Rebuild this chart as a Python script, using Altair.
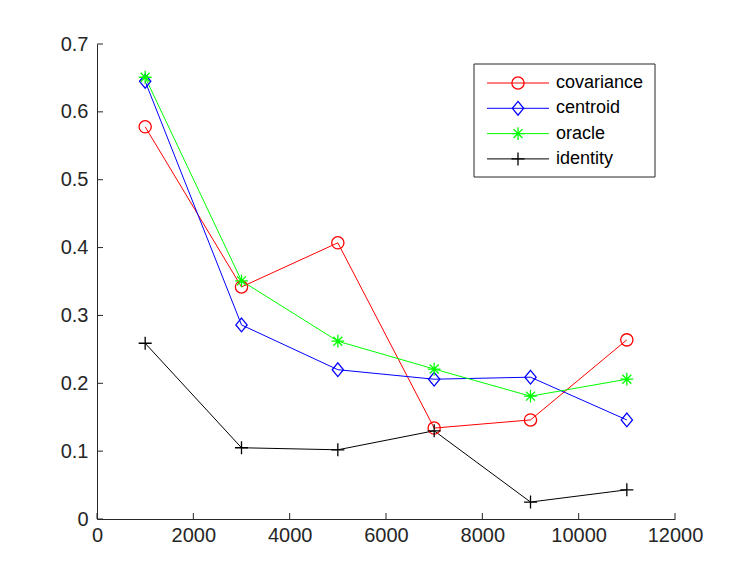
import altair as alt
import pandas as pd

# ---- data ----
xs = [1000, 3000, 5000, 7000, 9000, 11000]
covariance = [0.578, 0.342, 0.407, 0.134, 0.146, 0.264]
centroid = [0.645, 0.286, 0.220, 0.206, 0.209, 0.146]
oracle = [0.651, 0.351, 0.262, 0.221, 0.181, 0.206]
identity = [0.259, 0.105, 0.102, 0.130, 0.025, 0.043]

series_names = ["covariance", "centroid", "oracle", "identity"]
series_colors = ["#ff0000", "#0000ff", "#00ff00", "#000000"]
series_shapes = [
    "circle",
    "M0,-1.1L0.9,0L0,1.1L-0.9,0Z",
    "M-1,0L1,0M0,-1L0,1M-0.7,-0.7L0.7,0.7M-0.7,0.7L0.7,-0.7",
    "M-1,0L1,0M0,-1L0,1",
]
series_sizes = [150, 170, 180, 200]

x_ticks = [0, 2000, 4000, 6000, 8000, 10000, 12000]
y_ticks = [0, 0.1, 0.2, 0.3, 0.4, 0.5, 0.6, 0.7]

values = {"covariance": covariance, "centroid": centroid, "oracle": oracle, "identity": identity}
rows = []
for name in series_names:
    for xv, yv in zip(xs, values[name]):
        rows.append({"series": name, "x": xv, "y": yv})
df = pd.DataFrame(rows)

FONT = "Liberation Sans"
AX = "#262626"
W, H = 578, 475

color_scale = alt.Scale(domain=series_names, range=series_colors)
shape_scale = alt.Scale(domain=series_names, range=series_shapes)
size_scale = alt.Scale(domain=series_names, range=series_sizes)

xenc = alt.X("x:Q", scale=alt.Scale(domain=[0, 12000], nice=False),
             axis=alt.Axis(values=x_ticks, title=None, grid=False, ticks=False,
                           labelFont=FONT, labelFontSize=20, labelColor=AX,
                           labelPadding=6, domainColor=AX, domainWidth=1,
                           labelFlush=False, labelOverlap=False, format="d"))
yenc = alt.Y("y:Q", scale=alt.Scale(domain=[0, 0.7], nice=False),
             axis=alt.Axis(values=y_ticks, title=None, grid=False, ticks=False,
                           labelFont=FONT, labelFontSize=20, labelColor=AX,
                           labelPadding=9, domainColor=AX, domainWidth=1,
                           labelFlush=False, labelOverlap=False, format="~g"))

base = alt.Chart(df)
lines = base.mark_line(strokeWidth=1).encode(
    x=xenc, y=yenc,
    color=alt.Color("series:N", scale=color_scale, legend=None),
    detail="series:N",
)
points = base.mark_point(filled=False, strokeWidth=1.3, opacity=1).encode(
    x=xenc, y=yenc,
    color=alt.Color("series:N", scale=color_scale, legend=None),
    shape=alt.Shape("series:N", scale=shape_scale, legend=None),
    size=alt.Size("series:N", scale=size_scale, legend=None),
)

# inward tick marks
xt = alt.Chart(pd.DataFrame({"x": x_ticks})).mark_rule(color=AX, strokeWidth=1).encode(
    x=alt.X("x:Q"), y=alt.value(H), y2=alt.value(H - 6))
yt = alt.Chart(pd.DataFrame({"y": y_ticks})).mark_rule(color=AX, strokeWidth=1).encode(
    y=alt.Y("y:Q"), x=alt.value(0), x2=alt.value(6))

# manual MATLAB-style legend
leg_df = pd.DataFrame({"series": series_names, "idx": list(range(len(series_names)))})
leg_base = alt.Chart(leg_df).transform_calculate(py="39 + 25.3 * datum.idx")
leg_box = alt.Chart(pd.DataFrame({"a": [0]})).mark_rect(
    fill="white", stroke="#262626", strokeWidth=1).encode(
    x=alt.value(377), x2=alt.value(558), y=alt.value(20), y2=alt.value(133))
leg_line = leg_base.mark_rule(strokeWidth=1).encode(
    x=alt.value(390), x2=alt.value(452),
    y=alt.Y("py:Q", scale=None, axis=None),
    color=alt.Color("series:N", scale=color_scale, legend=None),
)
leg_pt = leg_base.mark_point(filled=False, strokeWidth=1.3, opacity=1).encode(
    x=alt.value(421),
    y=alt.Y("py:Q", scale=None, axis=None),
    color=alt.Color("series:N", scale=color_scale, legend=None),
    shape=alt.Shape("series:N", scale=shape_scale, legend=None),
    size=alt.Size("series:N", scale=size_scale, legend=None),
)
leg_txt = leg_base.mark_text(align="left", baseline="middle", font=FONT, fontSize=18,
                             color="#000000").encode(
    x=alt.value(459),
    y=alt.Y("py:Q", scale=None, axis=None),
    text="series:N",
)

chart = alt.layer(lines, points, xt, yt, leg_box, leg_line, leg_pt, leg_txt).properties(
    width=W, height=H,
    padding={"left": 97, "top": 44, "right": 71, "bottom": 65},
    autosize=alt.AutoSizeParams(type="none"),
    background="white",
).configure_view(stroke=None)

chart.save("out.html", embed_options={"renderer": "svg", "actions": False})
